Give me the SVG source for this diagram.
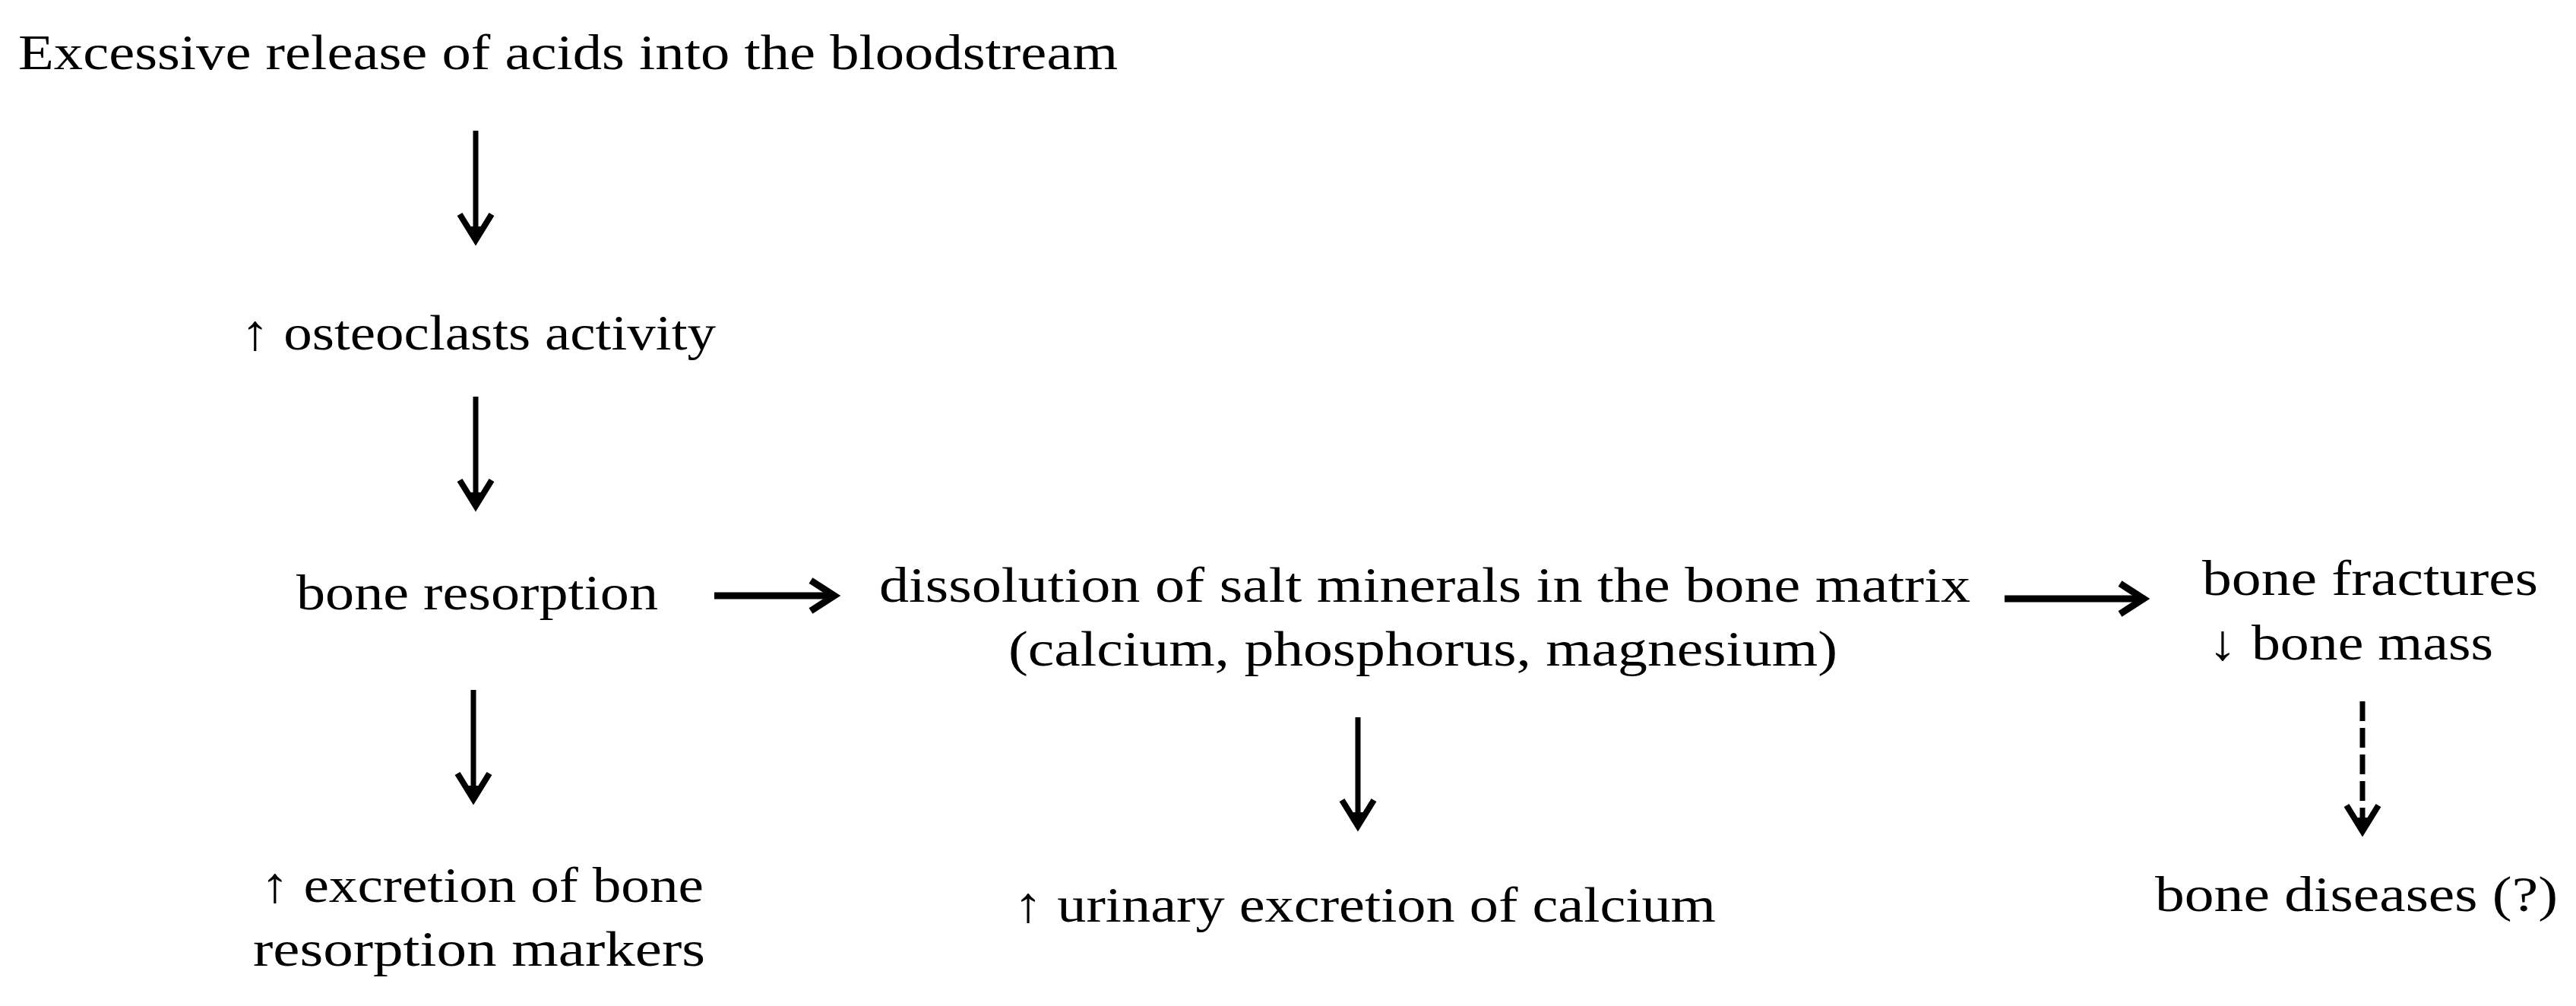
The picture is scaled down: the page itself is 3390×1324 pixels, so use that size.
<svg xmlns="http://www.w3.org/2000/svg" width="3390" height="1324" viewBox="0 0 3390 1324">
<style>
  .t { font-family: "Liberation Serif", "DejaVu Serif", serif; font-size: 66px; fill: #000; }
  .v { stroke: #000; stroke-width: 7; fill: none; }
  .vh { stroke: #000; stroke-width: 8; fill: none; stroke-linejoin: miter; stroke-miterlimit: 10; }
  .vf { fill: #000; stroke: none; }
  .h { stroke: #000; stroke-width: 9; fill: none; }
  .hh { stroke: #000; stroke-width: 9; fill: none; stroke-linejoin: miter; stroke-miterlimit: 10; }
  .d { stroke-dasharray: 26 9; }
</style>
<defs>
  <g id="vhead">
    <polyline class="vh" points="-21,-40 0,-6 21,-40"/>
    <polygon class="vf" points="-9,-24 9,-24 0,-4"/>
  </g>
</defs>
<rect width="3390" height="1324" fill="#fff"/>
<g id="n-acids"><text class="t" x="24" y="91" textLength="1447" lengthAdjust="spacingAndGlyphs">Excessive  release of acids into the bloodstream</text></g>
<g id="n-osteoclasts"><text class="t" x="317" y="460" textLength="625" lengthAdjust="spacingAndGlyphs">↑ osteoclasts  activity</text></g>
<g id="n-resorption"><text class="t" x="390" y="802" textLength="476" lengthAdjust="spacingAndGlyphs">bone resorption</text></g>
<g id="n-dissolution">
  <text class="t" x="1157" y="792" textLength="1436" lengthAdjust="spacingAndGlyphs">dissolution  of salt minerals in the bone matrix</text>
  <text class="t" x="1327" y="876" textLength="1091" lengthAdjust="spacingAndGlyphs">(calcium,  phosphorus,  magnesium)</text>
</g>
<g id="n-fractures">
  <text class="t" x="2898" y="783" textLength="442" lengthAdjust="spacingAndGlyphs">bone fractures</text>
  <text class="t" x="2906" y="868" textLength="375" lengthAdjust="spacingAndGlyphs">↓ bone mass</text>
</g>
<g id="n-markers">
  <text class="t" x="343" y="1187" textLength="583" lengthAdjust="spacingAndGlyphs">↑ excretion  of bone</text>
  <text class="t" x="333" y="1271" textLength="595" lengthAdjust="spacingAndGlyphs">resorption  markers</text>
</g>
<g id="n-urinary"><text class="t" x="1334" y="1213" textLength="924" lengthAdjust="spacingAndGlyphs">↑ urinary excretion  of calcium</text></g>
<g id="n-diseases"><text class="t" x="2836" y="1199" textLength="530" lengthAdjust="spacingAndGlyphs">bone diseases  (?)</text></g>
<g id="connectors">
  <line class="v" x1="626" y1="172" x2="626" y2="312"/>
  <use href="#vhead" x="626" y="322"/>
  <line class="v" x1="626" y1="522" x2="626" y2="662"/>
  <use href="#vhead" x="626" y="672"/>
  <line class="v" x1="623" y1="908" x2="623" y2="1048"/>
  <use href="#vhead" x="623" y="1058"/>
  <line class="v" x1="1787" y1="944" x2="1787" y2="1083"/>
  <use href="#vhead" x="1787" y="1093"/>
  <line class="v d" x1="3109" y1="923" x2="3109" y2="1088"/>
  <use href="#vhead" x="3109" y="1100"/>
  <line class="h" x1="940" y1="784" x2="1096" y2="784"/>
  <polyline class="hh" points="1067,764 1098,784 1067,804"/>
  <line class="h" x1="2638" y1="788" x2="2819" y2="788"/>
  <polyline class="hh" points="2790,768 2821,788 2790,808"/>
</g>
</svg>
